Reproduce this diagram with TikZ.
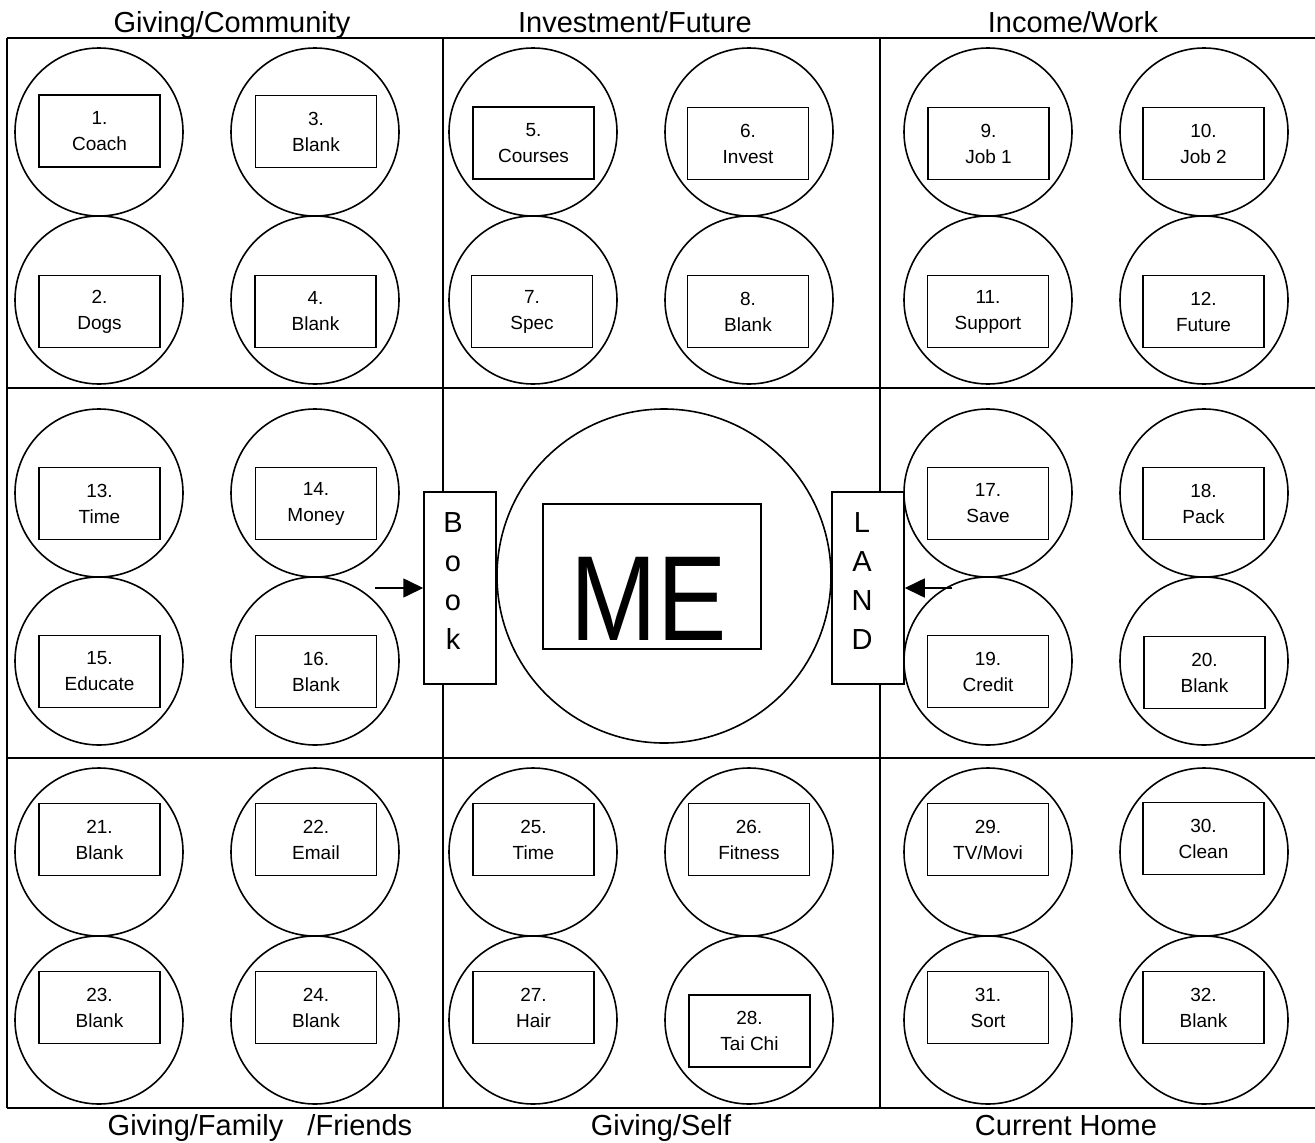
\documentclass[tikz,border=0pt]{standalone}
\usepackage{fontspec}
\usepackage{graphicx}
\setmainfont{Liberation Sans}
\usetikzlibrary{arrows.meta}
\tikzset{
  grid/.style={line width=2.7pt},
  circ/.style={circle,draw,line width=1.6pt,minimum size=168pt,inner sep=0pt},
  rbox/.style={rectangle,draw,line width=1.5pt,minimum width=121pt,minimum height=72pt,inner sep=0pt,align=center,font=\fontsize{19}{26}\selectfont},
  vbox/.style={rectangle,draw,fill=white,line width=1.5pt,minimum width=72pt,minimum height=192pt,inner sep=0pt},
  vtxt/.style={align=center,inner sep=0pt,font=\fontsize{29}{39}\selectfont},
  head/.style={anchor=base,inner sep=0pt,font=\fontsize{29}{34}\selectfont},
  arr/.style={line width=1.6pt,-{Triangle[length=20pt,width=19pt]}}
}
\begin{document}
\begin{tikzpicture}[x=1pt,y=-1pt]
\useasboundingbox (0,0) rectangle (1315,1143);
% frame and grid
\draw[grid] (7,38) -- (1318,38);
\draw[grid] (7,1108) -- (1318,1108);
\draw[grid] (7,38) -- (7,1108);
\draw[grid] (443,38) -- (443,1108);
\draw[grid] (880,38) -- (880,1108);
\draw[grid] (7,388) -- (1318,388);
\draw[grid] (7,758) -- (1318,758);
% headings
\node[head] (h1) at (232,32) {Giving/Community};
\node[head] (h2) at (635,32) {Investment/Future};
\node[head] (h3) at (1073,32) {Income/Work};
\node[head] (h4) at (260,1135) {Giving/Family\ \ \ /Friends};
\node[head] (h5) at (661,1135) {Giving/Self};
\node[head] (h6) at (1066,1135) {Current Home};
% circles
\foreach \n/\x/\y in {1/99/132,3/315/132,2/99/300,4/315/300,
  5/533/132,6/749/132,7/533/300,8/749/300,
  9/988/132,10/1204/132,11/988/300,12/1204/300,
  13/99/493,14/315/493,15/99/661,16/315/661,
  17/988/493,18/1204/493,19/988/661,20/1204/661,
  21/99/852,22/315/852,23/99/1020,24/315/1020,
  25/533/852,26/749/852,27/533/1020,28/749/1020,
  29/988/852,30/1204/852,31/988/1020,32/1204/1020}
  {\node[circ] (c\n) at (\x,\y) {};}
% boxes
\node[rbox] (r1) at (99.5,131) {1.\\Coach};
\node[rbox] (r2) at (99.5,311.5) {2.\\Dogs};
\node[rbox] (r3) at (316,131.5) {3.\\Blank};
\node[rbox] (r4) at (315.5,311.5) {4.\\Blank};
\node[rbox] (r5) at (533.5,143) {5.\\Courses};
\node[rbox] (r6) at (748,143.5) {6.\\Invest};
\node[rbox] (r7) at (532,311.5) {7.\\Spec};
\node[rbox] (r8) at (748,311.5) {8.\\Blank};
\node[rbox] (r9) at (988.5,143.5) {9.\\Job 1};
\node[rbox] (r10) at (1203.5,143.5) {10.\\Job 2};
\node[rbox] (r11) at (988,311.5) {11.\\Support};
\node[rbox] (r12) at (1203.5,311.5) {12.\\Future};
\node[rbox] (r13) at (99.5,503.5) {13.\\Time};
\node[rbox] (r14) at (316,503.5) {14.\\Money};
\node[rbox] (r15) at (99.5,671.5) {15.\\Educate};
\node[rbox] (r16) at (316,671.5) {16.\\Blank};
\node[rbox] (r17) at (988,503.5) {17.\\Save};
\node[rbox] (r18) at (1203.5,503.5) {18.\\Pack};
\node[rbox] (r19) at (988,671.5) {19.\\Credit};
\node[rbox] (r20) at (1204.5,672.5) {20.\\Blank};
\node[rbox] (r21) at (99.5,839.5) {21.\\Blank};
\node[rbox] (r22) at (316,839.5) {22.\\Email};
\node[rbox] (r23) at (99.5,1007.5) {23.\\Blank};
\node[rbox] (r24) at (316,1007.5) {24.\\Blank};
\node[rbox] (r25) at (533.5,839.5) {25.\\Time};
\node[rbox] (r26) at (749,839.5) {26.\\Fitness};
\node[rbox] (r27) at (533.5,1007.5) {27.\\Hair};
\node[rbox] (r28) at (749.5,1031) {28.\\Tai Chi};
\node[rbox] (r29) at (988,839.5) {29.\\TV/Movi};
\node[rbox] (r30) at (1203.5,838.5) {30.\\Clean};
\node[rbox] (r31) at (988,1007.5) {31.\\Sort};
\node[rbox] (r32) at (1203.5,1007.5) {32.\\Blank};
% centre
\node[circle,draw,line width=1.6pt,minimum size=334pt,inner sep=0pt] (mec) at (664,576) {};
\node[rectangle,draw,line width=1.5pt,minimum width=218pt,minimum height=145pt,inner sep=0pt] (merect) at (652,576.5) {};
\node[anchor=base,inner sep=0pt,font=\fontsize{121}{121}\selectfont] (metxt) at (649,640) {\scalebox{0.86}[1]{ME}};
\node[vbox] (book) at (460,588) {};
\node[vtxt] (booktxt) at (453,581) {B\\o\\o\\k};
\node[vbox] (land) at (868,588) {};
\node[vtxt] (landtxt) at (862,581) {L\\A\\N\\D};
\coordinate (abook) at (375,588);
\coordinate (aland) at (952,588);
\draw[arr] (abook) -- (book.west);
\draw[arr] (aland) -- (land.east);
\end{tikzpicture}
\end{document}
